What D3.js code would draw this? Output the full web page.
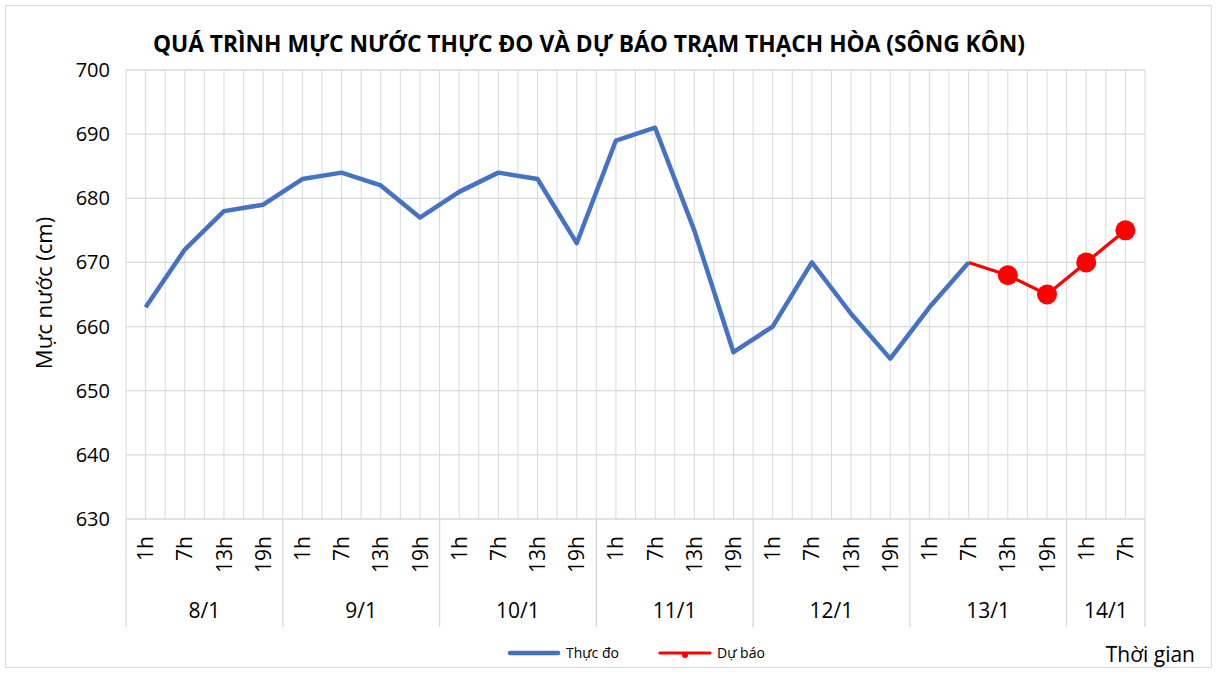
<!DOCTYPE html>
<html><head><meta charset="utf-8">
<script src="https://cdn.jsdelivr.net/npm/d3@7"></script>
<style>body{margin:0;background:#fff}svg{display:block}text{font-family:"Open Sans","Noto Sans",sans-serif}</style>
</head><body>
<svg id="c" width="1217" height="674"></svg>
<script>
const days = ["8/1","9/1","10/1","11/1","12/1","13/1","14/1"];
const hoursPerDay = [["1h","7h","13h","19h"],["1h","7h","13h","19h"],["1h","7h","13h","19h"],["1h","7h","13h","19h"],["1h","7h","13h","19h"],["1h","7h","13h","19h"],["1h","7h"]];
const observed = [663,672,678,679, 683,684,682,677, 681,684,683,673, 689,691,675,656, 660,670,662,655, 663,670];
const forecastStart = 21;
const forecast = [670,668,665,670,675];
const yTicks = [630,640,650,660,670,680,690,700];
const title = "QUÁ TRÌNH MỰC NƯỚC THỰC ĐO VÀ DỰ BÁO TRẠM THẠCH HÒA (SÔNG KÔN)";

const cats = [];
days.forEach((d,i)=>hoursPerDay[i].forEach(h=>cats.push({day:d,hour:h,key:d+"|"+h})));

const svg = d3.select("#c");
const L=126, R=1145, T=70, B=519;
const x = d3.scaleBand().domain(cats.map(c=>c.key)).range([L,R]).padding(0);
const bw = x.bandwidth();
const cx = k => x(k)+bw/2;
const y = d3.scaleLinear().domain([630,700]).range([B,T]);
const grid="#d9d9d9";

// outer border
svg.append("rect").attr("x",5.5).attr("y",5.5).attr("width",1206).attr("height",662).attr("fill","#fff").attr("stroke",grid);

// vertical gridlines (boundaries and centers)
const vlines=[];
cats.forEach(c=>{vlines.push(x(c.key));vlines.push(cx(c.key));});
vlines.push(R);
svg.append("g").selectAll("line").data(vlines).join("line")
  .attr("x1",d=>d).attr("x2",d=>d).attr("y1",T).attr("y2",B)
  .attr("stroke",grid).attr("stroke-width",1);
// horizontal gridlines
svg.append("g").selectAll("line").data(yTicks).join("line")
  .attr("x1",L).attr("x2",R).attr("y1",d=>y(d)).attr("y2",d=>y(d))
  .attr("stroke",grid).attr("stroke-width",1.3);

// y labels
svg.append("g").selectAll("text").data(yTicks).join("text")
  .attr("x",110).attr("y",d=>y(d)).attr("dy","0.35em").attr("text-anchor","end")
  .attr("font-size",20).attr("fill","#000").text(d=>d);
svg.append("text").attr("transform","translate(44,293) rotate(-90)").attr("text-anchor","middle")
  .attr("dy","0.35em").attr("font-size",22).attr("fill","#000").text("Mực nước (cm)");

// x axis category labels
svg.append("g").selectAll("text").data(cats).join("text")
  .attr("transform",c=>`translate(${cx(c.key)},536) rotate(-90)`)
  .attr("text-anchor","end").attr("dy","0.36em").attr("font-size",21).attr("fill","#000").text(c=>c.hour);
// group separators
const groupBounds=[];
let idx=0;
days.forEach((d,i)=>{const first=cats[idx].key; const last=cats[idx+hoursPerDay[i].length-1].key;
  groupBounds.push({day:d,x0:x(first),x1:x(last)+bw}); idx+=hoursPerDay[i].length;});
const sepX=[L].concat(groupBounds.map(g=>g.x1));
svg.append("g").selectAll("line").data(sepX).join("line")
  .attr("x1",d=>d).attr("x2",d=>d).attr("y1",B).attr("y2",627).attr("stroke",grid).attr("stroke-width",1.3);
svg.append("g").selectAll("text").data(groupBounds).join("text")
  .attr("x",g=>(g.x0+g.x1)/2).attr("y",611).attr("dy","0.35em").attr("text-anchor","middle")
  .attr("font-size",21).attr("fill","#000").text(g=>g.day);

// lines
const line = d3.line().x(d=>cx(d.k)).y(d=>y(d.v));
const obsData = observed.map((v,i)=>({k:cats[i].key,v}));
const fcData = forecast.map((v,i)=>({k:cats[forecastStart+i].key,v}));
svg.append("path").datum(fcData).attr("d",line).attr("fill","none").attr("stroke","#ff0000").attr("stroke-width",3.2).attr("stroke-linejoin","round");
svg.append("path").datum(obsData).attr("d",line).attr("fill","none").attr("stroke","#4472c4").attr("stroke-width",4.5).attr("stroke-linejoin","round");
svg.append("g").selectAll("circle").data(fcData.slice(1)).join("circle")
  .attr("cx",d=>cx(d.k)).attr("cy",d=>y(d.v)).attr("r",10).attr("fill","#ff0000");

// title
const t = svg.append("text").attr("x",589).attr("y",52).attr("text-anchor","middle")
  .attr("font-weight","bold").attr("font-size",20).attr("fill","#000").text(title);
const tw = t.node().getComputedTextLength();
t.attr("font-size",20*873/tw);

// legend
const lg = svg.append("g");
lg.append("line").attr("x1",510).attr("x2",558).attr("y1",653).attr("y2",653).attr("stroke","#4472c4").attr("stroke-width",4.5).attr("stroke-linecap","round");
lg.append("text").attr("x",566).attr("y",653).attr("dy","0.35em").attr("font-size",14).attr("fill","#000").text("Thực đo");
lg.append("line").attr("x1",660).attr("x2",710).attr("y1",653).attr("y2",653).attr("stroke","#ff0000").attr("stroke-width",3.2).attr("stroke-linecap","round");
lg.append("circle").attr("cx",685).attr("cy",655).attr("r",3).attr("fill","#ff0000");
lg.append("text").attr("x",717).attr("y",653).attr("dy","0.35em").attr("font-size",14).attr("fill","#000").text("Dự báo");
svg.append("text").attr("x",1195).attr("y",655).attr("dy","0.35em").attr("text-anchor","end").attr("font-size",21).attr("fill","#000").text("Thời gian");
</script>
</body></html>
